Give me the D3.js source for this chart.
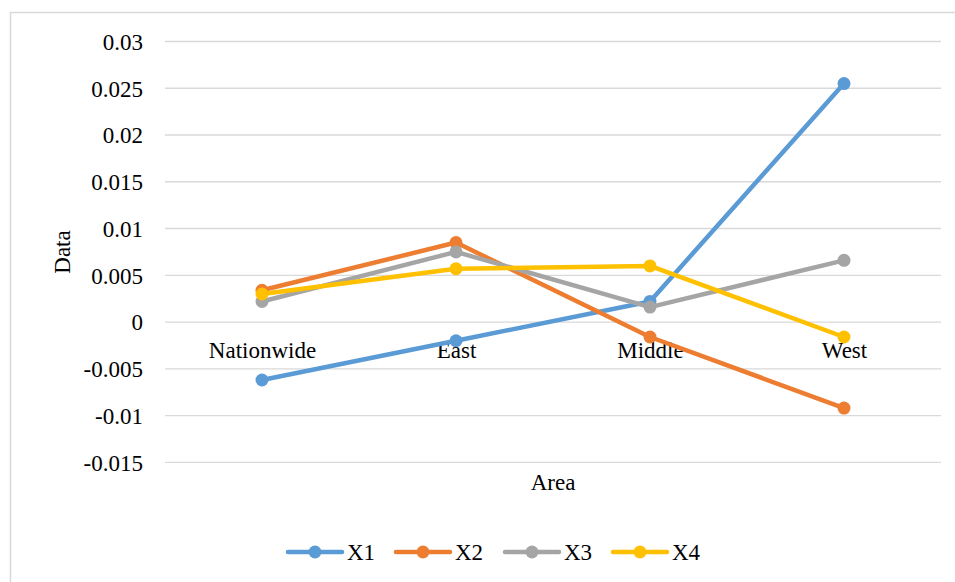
<!DOCTYPE html>
<html>
<head>
<meta charset="utf-8">
<script src="https://cdn.jsdelivr.net/npm/d3@7"></script>
<style>
  html, body { margin: 0; padding: 0; background: #fff; }
  svg { display: block; font-family: "Liberation Serif", "Times New Roman", serif; }
</style>
</head>
<body>
<svg id="chart" width="955" height="582"></svg>
<script>
// Regional values for four indicators
const categories = ["Nationwide", "East", "Middle", "West"];
const seriesNames = ["X1", "X2", "X3", "X4"];
const x1 = [-0.0062, -0.0020, 0.0022, 0.0255];
const x2 = [0.0034, 0.0085, -0.0016, -0.0092];
const x3 = [0.0022, 0.0075, 0.0016, 0.0066];
const x4 = [0.0030, 0.0057, 0.0060, -0.0016];
const yTicks = [0.03, 0.025, 0.02, 0.015, 0.01, 0.005, 0, -0.005, -0.01, -0.015];
const colors = ["#5B9BD5", "#ED7D31", "#A5A5A5", "#FFC000"];

const series = [x1, x2, x3, x4].map((vals, i) => ({ name: seriesNames[i], values: vals, color: colors[i] }));

const svg = d3.select("#chart");

// Outer chart frame (top and left edges)
svg.append("path")
  .attr("d", "M10.5,582 L10.5,12.5 L955,12.5")
  .attr("fill", "none")
  .attr("stroke", "#d9d9d9")
  .attr("stroke-width", 1.5);

const plotLeft = 165, plotRight = 941, plotTop = 41.5, plotBottom = 462.3;

const x = d3.scalePoint().domain(categories).range([plotLeft, plotRight]).padding(0.5);
const y = d3.scaleLinear().domain([-0.015, 0.03]).range([plotBottom, plotTop]);

// Horizontal gridlines
svg.append("g")
  .selectAll("line")
  .data(yTicks)
  .join("line")
  .attr("x1", plotLeft).attr("x2", plotRight)
  .attr("y1", d => y(d)).attr("y2", d => y(d))
  .attr("stroke", "#d9d9d9")
  .attr("stroke-width", 1.3);

// Y axis labels
const yAxis = d3.axisLeft(y).tickValues(yTicks).tickSize(0).tickPadding(0)
  .tickFormat(d => String(+d.toFixed(3)));
const gy = svg.append("g").attr("transform", `translate(${plotLeft - 22},0)`).call(yAxis);
gy.select(".domain").remove();
gy.selectAll("text")
  .attr("font-family", "Liberation Serif, Times New Roman, serif")
  .attr("font-size", 23)
  .attr("fill", "#000")
  .attr("dy", "0.34em");

// Category labels sit just below the zero line
const xAxis = d3.axisBottom(x).tickSize(0).tickPadding(0);
const gx = svg.append("g").attr("transform", `translate(0,${y(0)})`).call(xAxis);
gx.select(".domain").remove();
gx.selectAll("text")
  .attr("font-family", "Liberation Serif, Times New Roman, serif")
  .attr("font-size", 23)
  .attr("fill", "#000")
  .attr("dy", null)
  .attr("y", 36);

// Axis titles
svg.append("text")
  .attr("transform", `translate(70,252) rotate(-90)`)
  .attr("text-anchor", "middle")
  .attr("font-size", 23)
  .text("Data");
svg.append("text")
  .attr("x", 553).attr("y", 490)
  .attr("text-anchor", "middle")
  .attr("font-size", 23)
  .text("Area");

// Lines and markers
const line = d3.line().x((d, i) => x(categories[i])).y(d => y(d));
const g = svg.append("g");
series.forEach(s => {
  g.append("path")
    .attr("d", line(s.values))
    .attr("fill", "none")
    .attr("stroke", s.color)
    .attr("stroke-width", 4.5)
    .attr("stroke-linejoin", "round")
    .attr("stroke-linecap", "round");
  g.selectAll(null)
    .data(s.values)
    .join("circle")
    .attr("cx", (d, i) => x(categories[i]))
    .attr("cy", d => y(d))
    .attr("r", 6.5)
    .attr("fill", s.color);
});

// Legend
const legendX = [288, 396, 505, 613];
const legendY = 552;
const lg = svg.append("g");
series.forEach((s, i) => {
  const gx0 = legendX[i];
  lg.append("line")
    .attr("x1", gx0).attr("x2", gx0 + 54)
    .attr("y1", legendY).attr("y2", legendY)
    .attr("stroke", s.color).attr("stroke-width", 4.5)
    .attr("stroke-linecap", "round");
  lg.append("circle")
    .attr("cx", gx0 + 27).attr("cy", legendY).attr("r", 6.5)
    .attr("fill", s.color);
  lg.append("text")
    .attr("x", gx0 + 59).attr("y", legendY)
    .attr("dy", "0.34em")
    .attr("font-size", 23)
    .text(s.name);
});
</script>
</body>
</html>
